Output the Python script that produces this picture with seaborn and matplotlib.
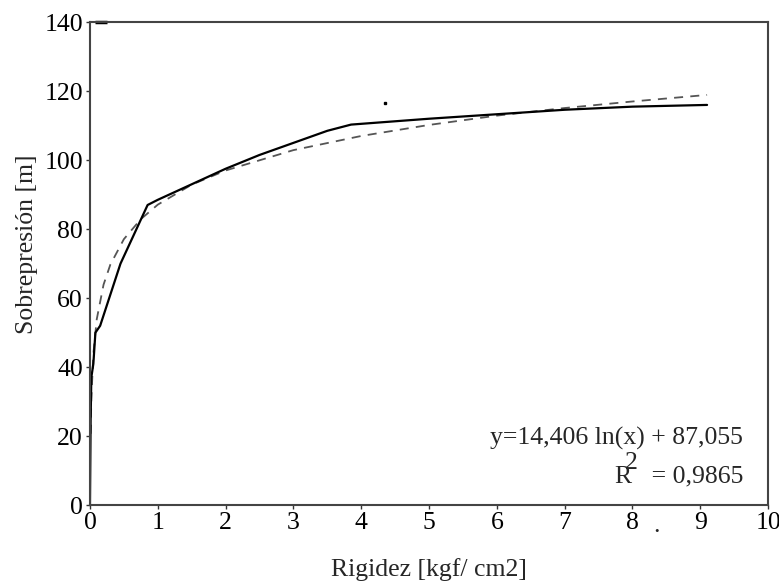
import matplotlib
matplotlib.use("Agg")
import matplotlib.pyplot as plt
import seaborn as sns

sns.set_style("ticks")
plt.rcParams["font.family"] = ["Liberation Serif", "DejaVu Serif"]

# measured curve (solid)
rigidez = [0.0, 0.01, 0.02, 0.05, 0.08, 0.15, 0.45, 0.85, 1.0, 1.5, 2.0, 2.5,
           3.0, 3.5, 3.85, 5.0, 6.0, 7.0, 8.0, 9.1]
sobrepresion = [0, 25, 37, 41, 50, 52, 70, 87, 88.5, 93, 97.5, 101.5,
                105, 108.5, 110.3, 112, 113.3, 114.6, 115.5, 116]

# logarithmic trend line (dashed)
trend_x = [0.01, 0.02, 0.05, 0.1, 0.2, 0.3, 0.5, 0.75, 1.0, 1.5, 2.0, 3.0,
           4.0, 5.0, 6.0, 7.0, 8.0, 9.1]
trend_y = [20.7, 30.7, 43.9, 53.9, 63.9, 69.7, 77.1, 82.9, 87.1, 92.9, 97.0,
           102.9, 107.0, 110.2, 112.9, 115.1, 117.0, 118.9]

x_ticks = list(range(0, 11))
y_ticks = list(range(0, 141, 20))

fs = 18.5

fig = plt.figure(figsize=(7.79, 5.82), dpi=100)
ax = fig.add_axes([0.1155, 0.132, 0.8705, 0.830])

sns.lineplot(x=trend_x, y=trend_y, ax=ax, color="#555555", lw=1.3,
             linestyle=(0, (5, 4)), sort=False)
sns.lineplot(x=rigidez, y=sobrepresion, ax=ax, color="black", lw=1.6, sort=False)

# stray marks visible in the original scan
ax.plot([4.35], [116.5], marker="s", ms=1.5, color="black")
ax.plot([0.08, 0.25], [140, 140], color="black", lw=2.5, clip_on=False,
        solid_capstyle="butt")

ax.set_xlim(0, 10)
ax.set_ylim(0, 140)
ax.set_xticks(x_ticks)
ax.set_yticks(y_ticks)
ax.tick_params(labelsize=fs, length=3, width=1, pad=2,
               colors="#333333", labelcolor="black")
for s in ax.spines.values():
    s.set_color("#444444")
    s.set_linewidth(1.5)

ax.set_xlabel("Rigidez [kgf/ cm2]", fontsize=fs, labelpad=17)
ax.set_ylabel("Sobrepresión [m]", fontsize=fs)
ax.yaxis.set_label_coords(-0.077, 0.54)
ax.text(8.35, -8.0, "·", fontsize=fs, ha="center", va="center")

ax.text(0.963, 0.139, "y=14,406 ln(x) + 87,055", transform=ax.transAxes,
        ha="right", va="center", fontsize=fs)
ax.text(0.963, 0.060, "R   = 0,9865", transform=ax.transAxes,
        ha="right", va="center", fontsize=fs)
ax.text(0.799, 0.087, "2", transform=ax.transAxes,
        ha="center", va="center", fontsize=fs)

fig.savefig("out.png", dpi=100)
plt.close()
